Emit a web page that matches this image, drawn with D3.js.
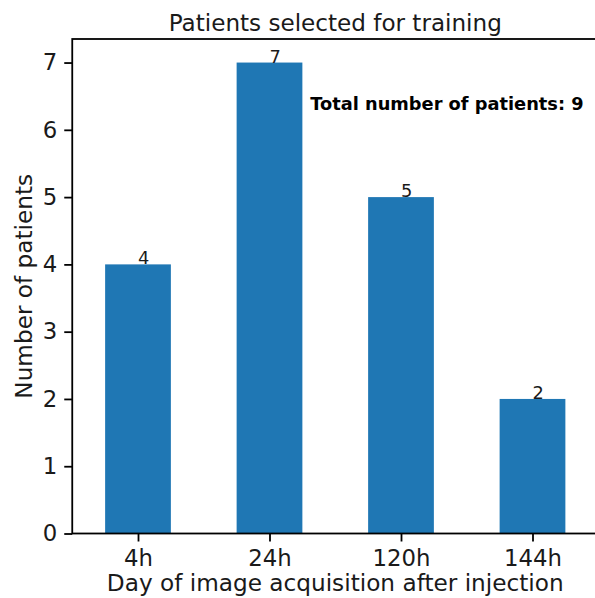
<!DOCTYPE html>
<html>
<head>
<meta charset="utf-8">
<script src="https://cdn.jsdelivr.net/npm/d3@7"></script>
<style>
  html, body { margin: 0; padding: 0; background: #fff; }
  svg { display: block; font-family: "DejaVu Sans", sans-serif; }
</style>
</head>
<body>
<svg id="chart" width="595" height="598"></svg>
<script>
// Acquisition time points and patient counts
const categories = ["4h", "24h", "120h", "144h"];
const patientCounts = [4, 7, 5, 2];
const yTicks = [0, 1, 2, 3, 4, 5, 6, 7];
const totalPatients = 9;

const svg = d3.select("#chart");
const plotLeft = 72.25, plotRight = 598.25, plotTop = 39, plotBottom = 533.5;
const barColor = "#1f77b4";
const ink = "#000";
const textInk = "#1a1a1a";

// Positional x scale (category index), like a pandas bar plot
const x = d3.scaleLinear().domain([-0.5, categories.length - 0.5]).range([plotLeft, plotRight]);
const y = d3.scaleLinear().domain([0, 7.35]).range([plotBottom, plotTop]);
const barW = x(0.5) - x(0);

// Bars
svg.append("g").selectAll("rect")
  .data(patientCounts)
  .join("rect")
  .attr("x", (d, i) => x(i) - barW / 2)
  .attr("y", d => y(d))
  .attr("width", barW)
  .attr("height", d => y(0) - y(d))
  .attr("fill", barColor);

// Value labels, left-aligned at the bar centre, baseline on the bar top
svg.append("g").selectAll("text")
  .data(patientCounts)
  .join("text")
  .attr("x", (d, i) => x(i))
  .attr("y", d => y(d))
  .attr("font-size", 17.8)
  .attr("fill", textInk)
  .text(d => d);

// Axes
const xAxis = d3.axisBottom(x)
  .tickValues(d3.range(categories.length))
  .tickFormat(i => categories[i])
  .tickSize(8).tickPadding(8);
const yAxis = d3.axisLeft(y)
  .tickValues(yTicks)
  .tickFormat(d3.format("d"))
  .tickSize(8).tickPadding(7);

const gx = svg.append("g").attr("transform", `translate(0,${plotBottom})`).call(xAxis);
const gy = svg.append("g").attr("transform", `translate(${plotLeft},0)`).call(yAxis);
[gx, gy].forEach(g => {
  g.select(".domain").remove();
  g.selectAll(".tick line").attr("stroke", ink).attr("stroke-width", 1.8);
  g.selectAll(".tick text").attr("font-size", 22.8).attr("fill", textInk)
    .attr("font-family", "DejaVu Sans, sans-serif");
});

// Spines
svg.append("rect")
  .attr("x", plotLeft).attr("y", plotTop)
  .attr("width", plotRight - plotLeft).attr("height", plotBottom - plotTop)
  .attr("fill", "none").attr("stroke", ink).attr("stroke-width", 1.8);

// Title and axis labels
svg.append("text")
  .attr("x", (plotLeft + plotRight) / 2).attr("y", 31)
  .attr("text-anchor", "middle").attr("font-size", 23.1).attr("fill", textInk)
  .text("Patients selected for training");

svg.append("text")
  .attr("x", (plotLeft + plotRight) / 2).attr("y", 591)
  .attr("text-anchor", "middle").attr("font-size", 23.2).attr("fill", textInk)
  .text("Day of image acquisition after injection");

svg.append("text")
  .attr("transform", `translate(32,${(plotTop + plotBottom) / 2}) rotate(-90)`)
  .attr("text-anchor", "middle").attr("font-size", 23.2).attr("fill", textInk)
  .text("Number of patients");

// Total annotation
svg.append("text")
  .attr("x", x(1.31)).attr("y", y(6.3))
  .attr("font-size", 17.8).attr("font-weight", "bold").attr("fill", ink)
  .text(`Total number of patients: ${totalPatients}`);
</script>
</body>
</html>
